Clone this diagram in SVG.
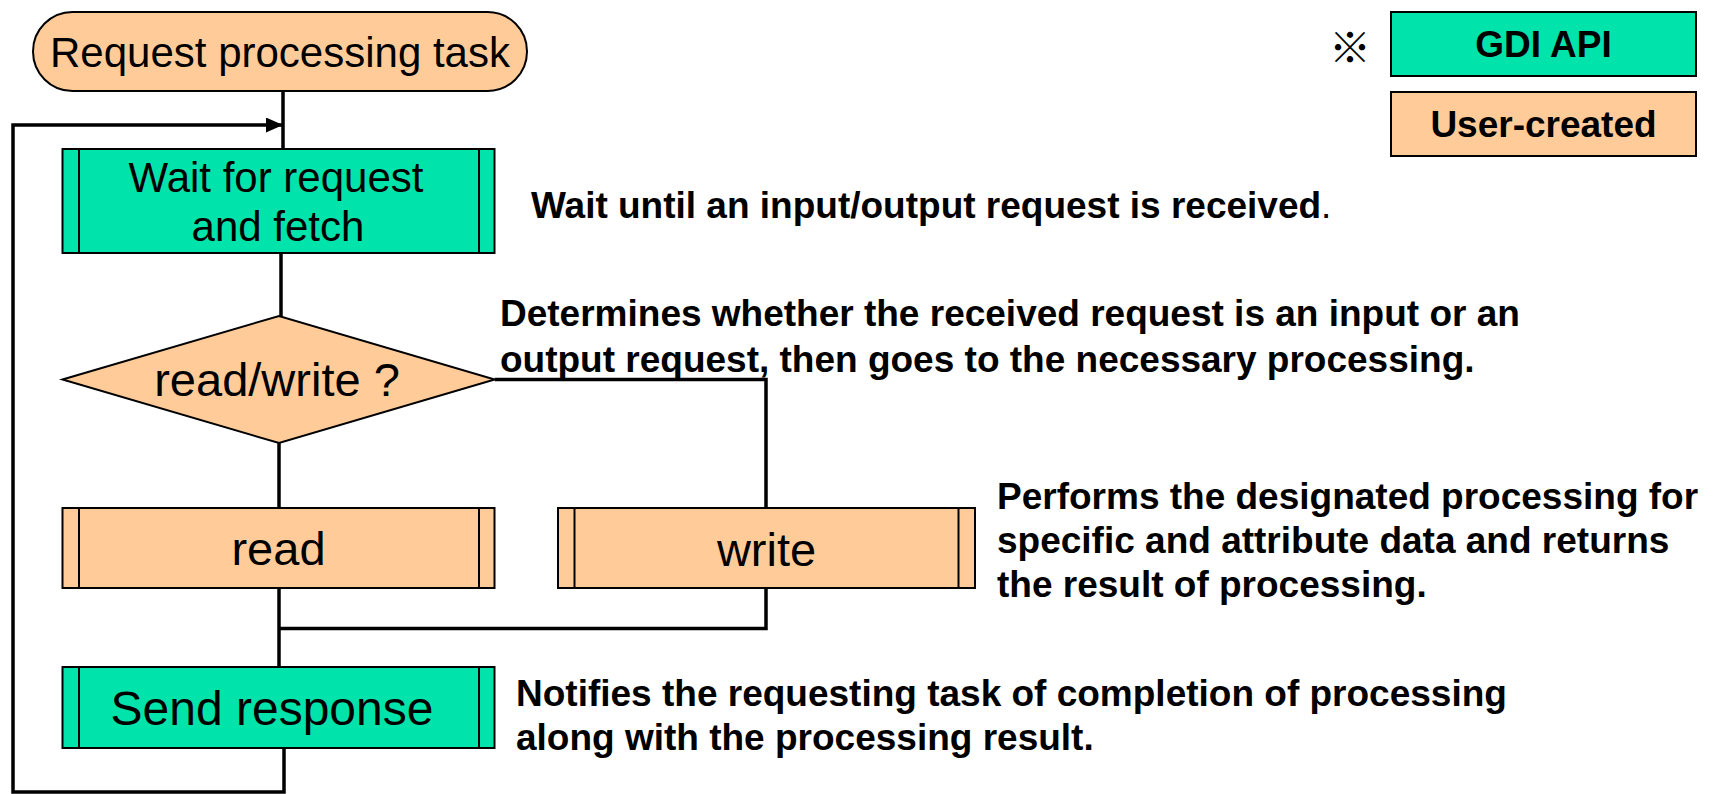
<svg xmlns="http://www.w3.org/2000/svg" width="1720" height="794" viewBox="0 0 1720 794">
<style>
.user{fill:#FFCC99;stroke:#000;stroke-width:2}
.gdi{fill:#00E3AA;stroke:#000;stroke-width:2}
.bar{stroke:#000;stroke-width:2;fill:none}
.conn{fill:none;stroke:#000;stroke-width:3.5}
.nt{font-family:"Liberation Sans",Arial,sans-serif;fill:#000;text-anchor:middle}
.ann{font-family:"Liberation Sans",Arial,sans-serif;font-size:37px;font-weight:bold;fill:#000}
</style>
<defs>
<marker id="arr" markerWidth="17" markerHeight="15" refX="17" refY="7.5" orient="auto" markerUnits="userSpaceOnUse">
<path d="M0,0 L17,7.5 L0,15 Z" fill="#000"/>
</marker>
</defs>
<g id="connectors">
<line class="conn" x1="283" y1="91" x2="283" y2="149"/>
<line class="conn" x1="281" y1="253" x2="281" y2="317"/>
<line class="conn" x1="279" y1="443" x2="279" y2="508"/>
<polyline class="conn" points="494.7,379.5 766,379.5 766,508"/>
<line class="conn" x1="279" y1="588" x2="279" y2="667"/>
<polyline class="conn" points="766,588 766,628.5 279,628.5"/>
<polyline class="conn" points="284,748 284,792 13,792 13,125 283,125" marker-end="url(#arr)"/>
</g>
<g id="start">
<rect class="user" x="33" y="12" width="494" height="79" rx="39.5"/>
<text class="nt" x="280" y="67" font-size="42">Request processing task</text>
</g>
<g id="wait">
<rect class="gdi" x="62.5" y="149" width="432" height="104"/>
<line class="bar" x1="79" y1="149" x2="79" y2="253"/>
<line class="bar" x1="479" y1="149" x2="479" y2="253"/>
<text class="nt" x="276" y="192" font-size="42">Wait for request</text>
<text class="nt" x="278" y="241" font-size="42">and fetch</text>
</g>
<g id="decision">
<polygon class="user" points="62.5,379.5 279,316 494.7,379.5 279,443"/>
<text class="nt" x="277" y="396" font-size="47">read/write ?</text>
</g>
<g id="read">
<rect class="user" x="62.5" y="508" width="432" height="80"/>
<line class="bar" x1="79" y1="508" x2="79" y2="588"/>
<line class="bar" x1="479" y1="508" x2="479" y2="588"/>
<text class="nt" x="278.5" y="565" font-size="47">read</text>
</g>
<g id="write">
<rect class="user" x="558" y="508" width="417" height="80"/>
<line class="bar" x1="574.5" y1="508" x2="574.5" y2="588"/>
<line class="bar" x1="958.5" y1="508" x2="958.5" y2="588"/>
<text class="nt" x="766.5" y="566" font-size="47">write</text>
</g>
<g id="send">
<rect class="gdi" x="62.5" y="667" width="432" height="81"/>
<line class="bar" x1="79" y1="667" x2="79" y2="748"/>
<line class="bar" x1="479" y1="667" x2="479" y2="748"/>
<text class="nt" x="272" y="725" font-size="48">Send response</text>
</g>
<g id="legend">
<text x="1350" y="63" font-family="Noto Sans CJK JP,sans-serif" font-size="42" font-weight="bold" text-anchor="middle" fill="#000">※</text>
<rect class="gdi" x="1391" y="12" width="305" height="64"/>
<text class="nt" x="1543.5" y="57" font-size="37" font-weight="bold">GDI API</text>
<rect class="user" x="1391" y="92" width="305" height="64"/>
<text class="nt" x="1543.5" y="137" font-size="37" font-weight="bold">User-created</text>
</g>
<g id="notes">
<text class="ann" x="531" y="218">Wait until an input/output request is received<tspan font-weight="normal">.</tspan></text>
<text class="ann" x="500" y="326">Determines whether the received request is an input or an</text>
<text class="ann" x="500" y="372">output request, then goes to the necessary processing.</text>
<text class="ann" x="997" y="509">Performs the designated processing for</text>
<text class="ann" x="997" y="553">specific and attribute data and returns</text>
<text class="ann" x="997" y="597">the result of processing.</text>
<text class="ann" x="516" y="706">Notifies the requesting task of completion of processing</text>
<text class="ann" x="516" y="750">along with the processing result.</text>
</g>
</svg>
